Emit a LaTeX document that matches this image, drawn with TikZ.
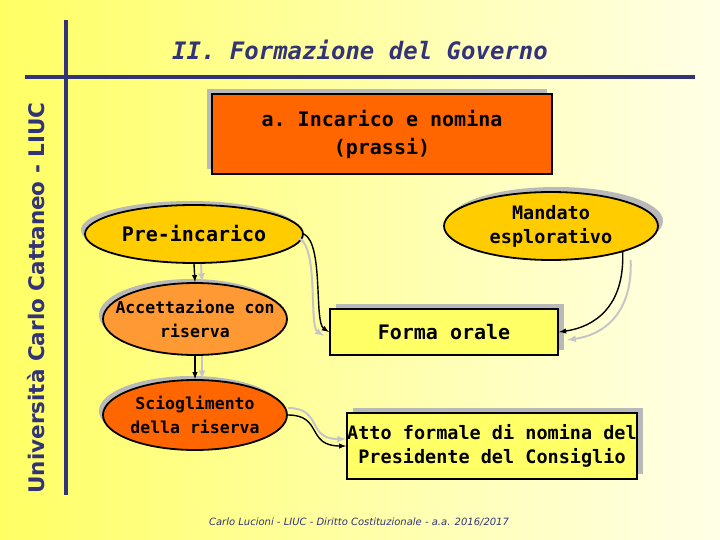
\documentclass[tikz,border=0pt]{standalone}
\usepackage{fontspec}
\setmainfont{DejaVu Sans}
\setmonofont{DejaVu Sans Mono}
\usepackage{tikz}
\usetikzlibrary{shapes.geometric,shadows,arrows.meta}
\definecolor{navy}{RGB}{51,51,120}
\definecolor{orng}{RGB}{255,102,0}
\definecolor{lorng}{RGB}{255,153,51}
\definecolor{gold}{RGB}{255,204,0}
\definecolor{lyel}{RGB}{255,255,102}
\definecolor{bgl}{RGB}{255,255,100}
\definecolor{bgm}{RGB}{255,255,185}
\definecolor{bgr}{RGB}{255,255,232}

\begin{document}
\begin{tikzpicture}[x=1pt,y=-1pt,
    shd/.style 2 args={general shadow={fill=gray!55, shadow xshift=#1, shadow yshift=#2}},
    box/.style={draw, line width=2.2pt, align=center, inner sep=0pt,
        font=\ttfamily\bfseries\fontsize{20}{28}\selectfont},
    oval/.style={ellipse, draw, line width=1.8pt, align=center, inner xsep=-20pt, inner ysep=0pt,
        font=\ttfamily\bfseries\fontsize{20}{24}\selectfont},
    lnk/.style={draw, line width=1.4pt, -latex},
    lsh/.style={preaction={draw=gray!45, line width=2pt, transform canvas={shift={#1}}}}]
    \useasboundingbox (0,0) rectangle (720,540);
    \shade[left color=bgl, middle color=bgm, right color=bgr] (0,0) rectangle (720,540);
    % frame lines
    \draw[navy, line width=4pt] (66,20) -- (66,495);
    \draw[navy, line width=4pt] (25,77) -- (695,77);
    \node[text=navy, font=\ttfamily\bfseries\itshape\fontsize{24}{28}\selectfont] (ttl) at (360,50) {II. Formazione del Governo};
    \node[rotate=90, text=navy, font=\bfseries\fontsize{21.5}{26}\selectfont] (uni) at (36,298) {Università Carlo Cattaneo - LIUC};
    \node[text=navy, font=\itshape\fontsize{10}{12}\selectfont] (foot) at (359,522) {Carlo Lucioni - LIUC - Diritto Costituzionale - a.a. 2016/2017};
    % boxes
    \node[box, minimum width=340pt, minimum height=80pt, fill=orng, shd={-5pt}{5pt}] (inc) at (382,134) {a. Incarico e nomina\\(prassi)};
    \node[oval, minimum width=218pt, minimum height=58pt, fill=gold, shd={-4pt}{4pt}] (pre) at (194,234) {Pre-incarico};
    \node[oval, minimum width=214pt, minimum height=68pt, fill=gold, shd={5pt}{5pt},
        font=\ttfamily\bfseries\fontsize{18.5}{24}\selectfont] (man) at (551,226) {Mandato\\esplorativo};
    \node[oval, minimum width=184pt, minimum height=72pt, fill=lorng, shd={-4pt}{4pt},
        font=\ttfamily\bfseries\fontsize{16.5}{24}\selectfont] (acc) at (195,319) {Accettazione con\\riserva};
    \node[oval, minimum width=184pt, minimum height=70pt, fill=orng, shd={-4pt}{4pt},
        font=\ttfamily\bfseries\fontsize{16.5}{24}\selectfont] (sci) at (195,415) {Scioglimento\\della riserva};
    \node[box, minimum width=228pt, minimum height=46pt, fill=lyel, shd={6pt}{5pt}] (orl) at (444,332) {Forma orale};
    \node[box, minimum width=278pt, minimum height=66pt, fill=lyel, shd={6pt}{5pt},
        font=\ttfamily\bfseries\fontsize{18.5}{24}\selectfont] (atto) at (492,446) {Atto formale di nomina del\\Presidente del Consiglio};
    % arrows
    \draw[lnk, lsh={(7,0)}] (pre.south) -- (acc.north);
    \draw[lnk, lsh={(7,0)}] (acc.south) -- (sci.north);
    \draw[lnk, lsh={(-5,4)}] (pre.east) .. controls +(20,10) and +(-15,-10) .. (orl.west);
    \draw[lnk, lsh={(8,8)}] (man.-20) .. controls +(2,55) and +(35,-5) .. (orl.east);
    \draw[lnk, lsh={(0,-7)}] (sci.east) .. controls +(35,0) and +(-40,0) .. (atto.west);
\end{tikzpicture}
\end{document}
